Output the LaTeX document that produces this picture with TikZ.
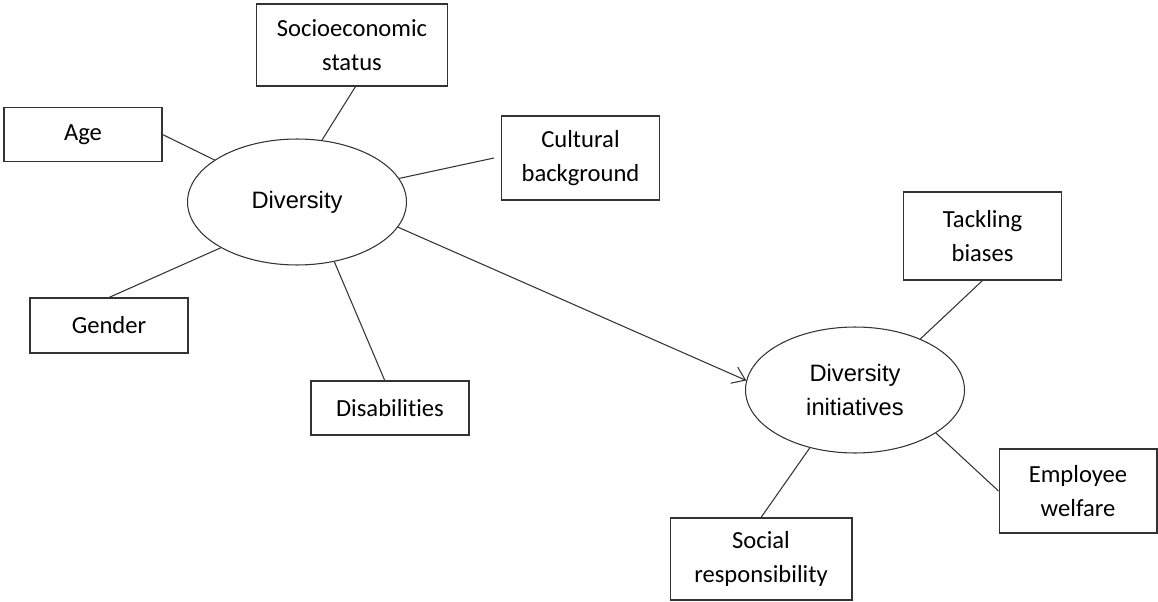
\documentclass[tikz,border=0pt]{standalone}
\usepackage{fontspec}
\setmainfont[Ligatures=NoCommon]{Carlito}
\newfontfamily\arialfont{Liberation Sans}
\usetikzlibrary{shapes.geometric,arrows.meta}
\tikzset{
  factor box/.style={draw=black!80, line width=0.6pt, minimum width=3.16cm, minimum height=1.08cm, align=center, inner sep=2pt, font=\fontsize{14}{19}\selectfont},
  concept/.style={ellipse, draw=black!80, line width=0.6pt, minimum width=4.38cm, minimum height=2.52cm, inner sep=0pt, align=center, font=\arialfont\fontsize{13.5}{19}\selectfont},
  link/.style={draw=black!80, line width=0.6pt},
  influence/.style={link, arrows={-Straight Barb[length=7pt, width=10pt]}}
}
\begin{document}
\begin{tikzpicture}[x=0.02cm, y=-0.02cm]
  \useasboundingbox (0,0) rectangle (1158,601);

  \node[concept] at (297,202) (diversity) {Diversity};
  \node[concept] at (855,390) (initiatives) {Diversity\\initiatives};

  \node[factor box, minimum width=3.82cm, minimum height=1.64cm] at (352,45) (socio) {Socioeconomic\\status};
  \node[factor box] at (83,134.5) (age) {Age};
  \node[factor box, minimum height=1.68cm] at (580.5,158) (culture) {Cultural\\background};
  \node[factor box, minimum height=1.1cm] at (109,325.5) (gender) {Gender};
  \node[factor box] at (390,408) (disab) {Disabilities};

  \node[factor box, minimum height=1.76cm] at (982.5,236) (biases) {Tackling\\biases};
  \node[factor box, minimum height=1.68cm] at (1078,491) (welfare) {Employee\\welfare};
  \node[factor box, minimum width=3.64cm, minimum height=1.64cm] at (761,559) (social) {Social\\responsibility};

  \draw[link] (age.east) -- (diversity.153);
  \draw[link] ([xshift=2]socio.south) -- (diversity.68);
  \draw[link] ([xshift=-4pt]culture.west) -- (diversity.13);
  \draw[link] (gender.north) -- (diversity.211);
  \draw[link] ([xshift=-3]disab.north) -- (diversity.302);

  \draw[influence] (diversity.-14) -- (initiatives.175);

  \draw[link] (biases.south) -- (initiatives.38);
  \draw[link] (welfare.west) -- (initiatives.-28);
  \draw[link] (social.north) -- (initiatives.232);
\end{tikzpicture}
\end{document}
